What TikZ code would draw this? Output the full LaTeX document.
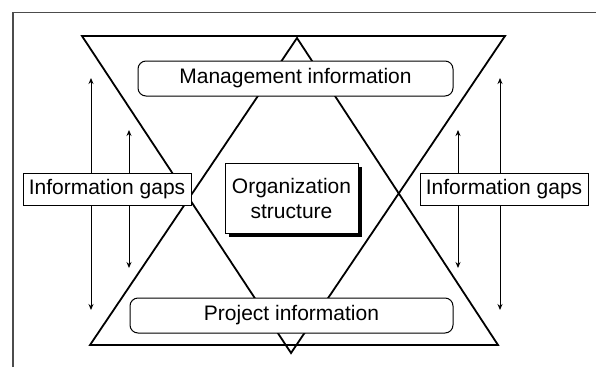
\documentclass[tikz,border=0pt]{standalone}
\usepackage{fontspec}
\setmainfont{Liberation Sans}
\usetikzlibrary{arrows.meta}
\tikzset{
  tri/.style={line width=1.8pt, line join=miter},
  infobox/.style={draw, line width=1pt, fill=white, rounded corners=8pt, inner sep=0pt},
  gapbox/.style={draw, line width=0.9pt, fill=white, inner sep=0pt, minimum width=168pt, minimum height=32pt},
  orgbox/.style={draw, line width=1pt, fill=white, inner sep=0pt, align=center, minimum width=133pt, minimum height=70pt},
  shadowfill/.style={fill=black},
  gaparrow/.style={line width=0.9pt, -{Stealth[length=6pt,width=5pt]}},
  frameline/.style={line width=1.3pt, draw=black!70}
}
\begin{document}
\begin{tikzpicture}[x=1pt, y=-1pt, font=\fontsize{21}{25}\selectfont]
\useasboundingbox (0,0) rectangle (596,367);
% frame
\draw[frameline] (13,367) -- (13,12.5) -- (596,12.5);
% triangles
\draw[tri] (82,36) -- (505,36) -- (291,353) -- cycle;
\draw[tri] (297,38) -- (498,345) -- (90,345) -- cycle;
% boxes
\node[infobox, minimum width=315pt, minimum height=35pt] (mgmt) at (295.5,78.5) {Management information};
\node[infobox, minimum width=323pt, minimum height=35pt] (proj) at (291.5,315.5) {Project information};
\fill[shadowfill] (229,167) rectangle (361.5,236.5);
\node[orgbox] (org) at (291.5,198) {Organization\\structure};
\node[gapbox] (lg) at (107,189) {Information gaps};
\node[gapbox] (rg) at (504,189.5) {Information gaps};
% arrow ends
\coordinate (lu1) at (91,78);
\coordinate (lu2) at (129,130);
\coordinate (ld1) at (91,310);
\coordinate (ld2) at (129,268);
\coordinate (ru1) at (500,78);
\coordinate (ru2) at (458,130);
\coordinate (rd1) at (500,310);
\coordinate (rd2) at (458,268);
\draw[gaparrow] (lg.north -| lu1) -- (lu1);
\draw[gaparrow] (lg.north -| lu2) -- (lu2);
\draw[gaparrow] (lg.south -| ld1) -- (ld1);
\draw[gaparrow] (lg.south -| ld2) -- (ld2);
\draw[gaparrow] (rg.north -| ru1) -- (ru1);
\draw[gaparrow] (rg.north -| ru2) -- (ru2);
\draw[gaparrow] (rg.south -| rd1) -- (rd1);
\draw[gaparrow] (rg.south -| rd2) -- (rd2);
\end{tikzpicture}
\end{document}
